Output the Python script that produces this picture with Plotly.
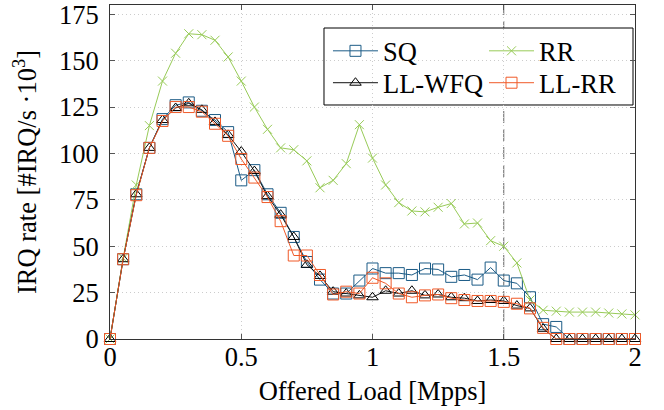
import plotly.graph_objects as go

offered_load = [0.0, 0.05, 0.1, 0.15, 0.2, 0.25, 0.3, 0.35, 0.4, 0.45,
                0.5, 0.55, 0.6, 0.65, 0.7, 0.75, 0.8, 0.85, 0.9, 0.95,
                1.0, 1.05, 1.1, 1.15, 1.2, 1.25, 1.3, 1.35, 1.4, 1.45,
                1.5, 1.55, 1.6, 1.65, 1.7, 1.75, 1.8, 1.85, 1.9, 1.95, 2.0]

sq = [0, 43, 78, 103, 118.5, 126, 127.5, 123, 118, 111.5,
      85.5, 91, 78, 68, 55, 41.5, 32, 24.5, 24.5, 31.5,
      38, 35.5, 35.5, 34.5, 38, 37.5, 33.5, 34.5, 32, 38.5,
      31.5, 30, 22.5, 8, 6.5, 0, 0, 0, 0, 0, 0]

rr = [0, 43.5, 83, 115, 139, 154, 164.5, 164, 161, 152,
      139, 125, 113, 103, 102, 96, 81.5, 85.5, 94.5, 115.5,
      97.5, 83, 73.5, 69, 68.5, 71, 73, 62, 62.5, 53,
      50, 41, 21, 15.5, 15, 14.5, 14.5, 14.5, 14, 13.5, 13]

ll_wfq = [0, 43, 78, 103, 118, 124.5, 127, 123.5, 117, 110,
          101, 90.5, 77, 67, 55, 40, 34, 25.5, 24.5, 23.5,
          22.5, 26, 24.5, 26, 23.5, 24, 22.5, 22, 20.5, 21,
          20.5, 18, 16.5, 5.5, 0, 0, 0, 0, 0, 0, 0]

ll_rr = [0, 43, 77.5, 103, 117.5, 125, 125, 122.5, 116, 109.5,
         97, 87, 76.5, 63.5, 45, 45, 34.5, 24, 25.5, 24.5,
         33, 30, 24.5, 22.5, 23.5, 24, 22, 21, 20.5, 20.5,
         20, 19, 16.5, 6, 0, 0, 0, 0, 0, 0, 0]

x_ticks = [0, 0.5, 1, 1.5, 2]
x_tick_labels = ["0", "0.5", "1", "1.5", "2"]
y_ticks = [0, 25, 50, 75, 100, 125, 150, 175]
y_tick_labels = ["0", "25", "50", "75", "100", "125", "150", "175"]
marker_load = 1.5

FONT = "Liberation Serif"
C_SQ = "#1b5b86"
C_RR = "#98cb58"
C_WFQ = "#111111"
C_LLRR = "#f05a28"
TXT = dict(family=FONT, size=26.5, color="black")

fig = go.Figure()
fig.add_trace(go.Scatter(x=offered_load, y=sq, name="SQ", mode="lines+markers",
                         line=dict(color=C_SQ, width=1),
                         marker=dict(symbol="square-open", size=11, color=C_SQ, line=dict(width=1)),
                         cliponaxis=False, legend="legend"))
fig.add_trace(go.Scatter(x=offered_load, y=rr, name="RR", mode="lines+markers",
                         line=dict(color=C_RR, width=1),
                         marker=dict(symbol="x-thin-open", size=9, color=C_RR, line=dict(width=1, color=C_RR)),
                         cliponaxis=False, legend="legend2"))
fig.add_trace(go.Scatter(x=offered_load, y=ll_wfq, name="LL-WFQ", mode="lines+markers",
                         line=dict(color=C_WFQ, width=1),
                         marker=dict(symbol="triangle-up-open", size=10, color="#000000", line=dict(width=1)),
                         cliponaxis=False, legend="legend3"))
fig.add_trace(go.Scatter(x=offered_load, y=ll_rr, name="LL-RR", mode="lines+markers",
                         line=dict(color=C_LLRR, width=1),
                         marker=dict(symbol="square-open", size=11, color=C_LLRR, line=dict(width=1)),
                         cliponaxis=False, legend="legend4"))

# dashed reference line and legend frame
fig.add_shape(type="line", x0=marker_load, x1=marker_load, xref="x", y0=0, y1=1, yref="paper",
              line=dict(color="#666666", width=1, dash="12px,6px"), layer="below")
fig.add_shape(type="rect", xref="paper", yref="paper", x0=0.4076, x1=0.9962, y0=0.7006, y1=0.9311,
              line=dict(color="#000000", width=1), fillcolor="white", layer="below")

legend_common = dict(bgcolor="rgba(0,0,0,0)", borderwidth=0, font=TXT,
                     orientation="v", yanchor="middle", xanchor="left", itemwidth=45, tracegroupgap=0)
col1_x, col2_x = 0.4152, 0.7124
row1_y, row2_y = 0.862, 0.7665
fig.update_layout(
    template="none",
    width=664, height=410,
    margin=dict(l=110, r=29, t=5, b=71),
    plot_bgcolor="white", paper_bgcolor="white",
    font=TXT,
    showlegend=True,
    legend=dict(x=col1_x, y=row1_y, **legend_common),
    legend2=dict(x=col2_x, y=row1_y, **legend_common),
    legend3=dict(x=col1_x, y=row2_y, **legend_common),
    legend4=dict(x=col2_x, y=row2_y, **legend_common),
    xaxis=dict(range=[0, 2], tickvals=x_ticks, ticktext=x_tick_labels, tickfont=TXT,
               showline=True, linecolor="#333333", linewidth=1, mirror="ticks",
               ticks="inside", ticklen=5, tickcolor="#555555",
               showgrid=True, gridcolor="#cccccc", griddash="1px,3px", gridwidth=1,
               zeroline=False, ticklabelstandoff=-6, ticklabeloverflow="allow",
               title=dict(text="Offered Load [Mpps]", font=TXT, standoff=10),
               automargin=False),
    yaxis=dict(range=[0, 180], tickvals=y_ticks, ticktext=y_tick_labels, tickfont=TXT,
               showline=True, linecolor="#333333", linewidth=1, mirror="ticks",
               ticks="inside", ticklen=5, tickcolor="#555555",
               showgrid=True, gridcolor="#cccccc", griddash="1px,3px", gridwidth=1,
               zeroline=False, ticklabelstandoff=5, ticklabeloverflow="allow",
               title=dict(text="IRQ rate [#IRQ/s ·10<sup>3</sup>]", font=TXT, standoff=14),
               automargin=False),
)

fig.write_html("out.html", config={"displayModeBar": False},
               post_script="document.body.style.margin='0';")
